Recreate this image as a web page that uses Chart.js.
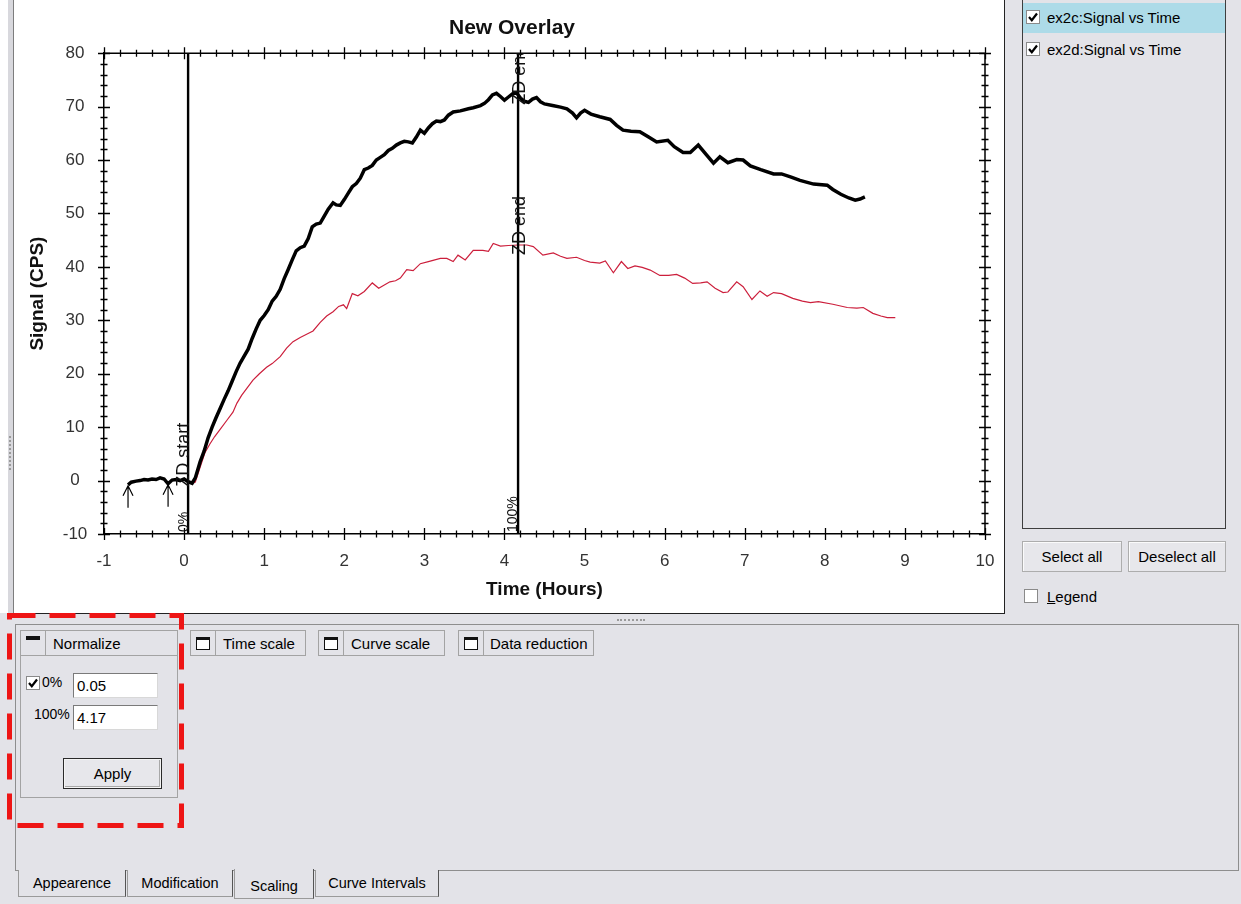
<!DOCTYPE html>
<html>
<head>
<meta charset="utf-8">
<title>New Overlay</title>
<script src="https://cdn.jsdelivr.net/npm/chart.js@4.4.1/dist/chart.umd.min.js"></script>
<style>
* { box-sizing: border-box; }
body {
  margin: 0;
  width: 1241px;
  height: 904px;
  position: relative;
  overflow: hidden;
  background: #e3e3e8;
  font: 15px "Liberation Sans", Arial, sans-serif;
  color: #000;
}
.abs { position: absolute; }
.lbl { position: absolute; white-space: nowrap; line-height: 16px; }
#leftWhite { left: 0; top: 0; width: 8px; height: 613px; background: #fff; }
#splitBar { left: 8px; top: 0; width: 6px; height: 613px; background: #d8d8dd; border-right: 1px solid #7d7d7d; }
#splitDots { left: 9px; top: 436px; width: 3px; height: 34px; border-left: 2px dotted #9a9a9a; }
#plotPanel { left: 14px; top: 0; width: 991px; height: 614px; background: #fff; border-right: 1px solid #222; border-bottom: 1px solid #222; }
#chartBox { left: 15px; top: 0; width: 990px; height: 613px; }
#hSplit { left: 617px; top: 619px; width: 28px; height: 3px; border-top: 2px dotted #9a9a9a; }

#curveList { left: 1022px; top: -2px; width: 204px; height: 531px; border: 1px solid #3e3e3e; background: #e3e3e8; }
#selRow { left: 1023px; top: 3px; width: 202px; height: 30px; background: #addbe8; }

.chk { position: absolute; width: 14px; height: 14px; background: #fff; border: 1px solid #8a8a8a; }
.chk svg { position: absolute; left: 0; top: 0; width: 12px; height: 12px; }
.chk polyline { fill: none; stroke: #000; stroke-width: 2.2; }

.btn {
  position: absolute;
  background: #e7e7eb;
  border: 1px solid #adadad;
  box-shadow: inset 1px 1px 0 #fbfbfb;
  text-align: center;
  font-size: 15px;
}
.btn.def { border: 1px solid #2a2a2a; box-shadow: inset 0 0 0 1px #f4f4f4, inset -2px -2px 0 #a8a8a8; }

#tabPage { left: 15px; top: 624px; width: 1224px; height: 247px; border: 1px solid #8e8e8e; }

.ghead { position: absolute; height: 26px; border: 1px solid #a3a3a3; background: #e3e3e8; }
.ghead .ico { position: absolute; left: 0; top: 0; width: 25px; height: 24px; border-right: 1px solid #a3a3a3; }
.ghead .txt { position: absolute; top: 4px; white-space: nowrap; }
.winIco { position: absolute; left: 5px; top: 6px; width: 14px; height: 13px; border: 1px solid #111; border-top-width: 3px; background: #fff; }
.barIco { position: absolute; left: 5px; top: 5px; width: 14px; height: 4px; background: #111; }
.gbody { position: absolute; border: 1px solid #a3a3a3; }
.field { position: absolute; height: 25px; background: #fff; border: 1px solid #d8d8d8; border-top-color: #7a7a7a; border-left-color: #7a7a7a; padding: 3px 0 0 3px; font-size: 15px; }

.tab {
  position: absolute;
  top: 870px;
  height: 27px;
  background: #e3e3e8;
  border: 1px solid #9a9a9a;
  border-top: none;
  border-right-color: #555;
  text-align: center;
  line-height: 26px;
  font-size: 14.5px;
}
.tab.sel { top: 869px; height: 30px; line-height: 34px; z-index: 2; }
#redBox { left: 0; top: 0; width: 1241px; height: 904px; pointer-events: none; z-index: 5; }
</style>
</head>
<body>

<div id="leftWhite" class="abs"></div>
<div id="splitBar" class="abs"></div>
<div id="splitDots" class="abs"></div>
<div id="plotPanel" class="abs"></div>
<div id="chartBox" class="abs"><canvas id="overlayChart"></canvas></div>
<div id="hSplit" class="abs"></div>

<!-- curve list on the right -->
<div id="curveList" class="abs"></div>
<div id="selRow" class="abs"></div>
<div class="chk" style="left:1026px;top:10px"><svg viewBox="0 0 12 12"><polyline points="2,6 4.8,9.2 10,2.5"/></svg></div>
<div class="lbl" style="left:1047px;top:10px">ex2c:Signal vs Time</div>
<div class="chk" style="left:1026px;top:42px"><svg viewBox="0 0 12 12"><polyline points="2,6 4.8,9.2 10,2.5"/></svg></div>
<div class="lbl" style="left:1047px;top:42px">ex2d:Signal vs Time</div>

<div class="btn" style="left:1022px;top:541px;width:100px;height:31px;line-height:29px">Select all</div>
<div class="btn" style="left:1128px;top:541px;width:98px;height:31px;line-height:29px">Deselect all</div>
<div class="chk" style="left:1024px;top:589px;width:14px;height:14px"></div>
<div class="lbl" style="left:1047px;top:589px"><u>L</u>egend</div>

<!-- scaling tab page -->
<div id="tabPage" class="abs"></div>

<div class="ghead" style="left:20px;top:630px;width:158px">
  <div class="ico"><div class="barIco"></div></div>
  <div class="txt" style="left:32px">Normalize</div>
</div>
<div class="gbody" style="left:20px;top:655px;width:158px;height:143px"></div>
<div class="chk" style="left:26px;top:676px"><svg viewBox="0 0 12 12"><polyline points="2,6 4.8,9.2 10,2.5"/></svg></div>
<div class="lbl" style="left:42px;top:674px;font-size:14px">0%</div>
<div class="field" style="left:73px;top:673px;width:85px">0.05</div>
<div class="lbl" style="left:34px;top:706px;font-size:14px">100%</div>
<div class="field" style="left:73px;top:705px;width:85px">4.17</div>
<div class="btn def" style="left:63px;top:758px;width:99px;height:31px;line-height:29px">Apply</div>

<div class="ghead" style="left:190px;top:630px;width:116px">
  <div class="ico"><div class="winIco"></div></div>
  <div class="txt" style="left:32px">Time scale</div>
</div>
<div class="ghead" style="left:318px;top:630px;width:127px">
  <div class="ico"><div class="winIco"></div></div>
  <div class="txt" style="left:32px">Curve scale</div>
</div>
<div class="ghead" style="left:458px;top:630px;width:136px">
  <div class="ico"><div class="winIco"></div></div>
  <div class="txt" style="left:31px">Data reduction</div>
</div>

<div class="tab" style="left:18px;width:108px">Appearence</div>
<div class="tab" style="left:127px;width:106px">Modification</div>
<div class="tab sel" style="left:234px;width:80px">Scaling</div>
<div class="tab" style="left:315px;width:124px">Curve Intervals</div>

<svg id="redBox" class="abs">
  <rect x="9.5" y="615.5" width="172" height="210" fill="none" stroke="#ee1515" stroke-width="5" stroke-dasharray="26 14"/>
</svg>

<script>
// ex2c (thick black) and ex2d (thin red), signal in CPS against time in hours
const timeC = [-0.70, -0.66, -0.60, -0.55, -0.50, -0.45, -0.40, -0.35, -0.30, -0.25, -0.20, -0.15, -0.10, -0.05, 0.00, 0.05, 0.10, 0.14,
  0.20, 0.25, 0.30, 0.35, 0.40, 0.45, 0.50, 0.55, 0.60, 0.65, 0.70, 0.75, 0.80, 0.85, 0.90, 0.95, 1.00, 1.05, 1.10, 1.15,
  1.20, 1.25, 1.30, 1.35, 1.40, 1.45, 1.50, 1.55, 1.60, 1.65, 1.70, 1.75, 1.80, 1.86, 1.90, 1.95, 2.00, 2.05, 2.10, 2.15,
  2.20, 2.25, 2.30, 2.35, 2.40, 2.45, 2.50, 2.55, 2.60, 2.65, 2.70, 2.75, 2.80, 2.85, 2.90, 2.95, 3.00, 3.05, 3.10, 3.15,
  3.20, 3.25, 3.30, 3.36, 3.45, 3.55, 3.61, 3.70, 3.75, 3.80, 3.85, 3.90, 3.95, 4.00, 4.05, 4.10, 4.15, 4.20, 4.25, 4.30,
  4.35, 4.40, 4.45, 4.50, 4.60, 4.70, 4.78, 4.85, 4.90, 4.95, 5.00, 5.08, 5.19, 5.32, 5.40, 5.48, 5.58, 5.69, 5.80, 5.90,
  6.04, 6.12, 6.23, 6.32, 6.42, 6.52, 6.61, 6.69, 6.79, 6.90, 6.98, 7.07, 7.20, 7.36, 7.46, 7.58, 7.69, 7.86, 8.03, 8.10,
  8.20, 8.30, 8.38, 8.44, 8.50];
const signalC = [-0.8, -0.3, -0.1, 0.0, 0.2, 0.1, 0.3, 0.2, 0.5, 0.3, -0.6, 0.1, 0.2, 0.0, 0.3, -0.2, -0.5, 0.5,
  3.5, 5.5, 8.0, 10.0, 11.8, 13.5, 15.2, 16.8, 18.6, 20.4, 22.0, 23.3, 24.6, 26.6, 28.4, 30.0, 30.9, 32.0, 33.6, 34.5,
  35.8, 37.8, 39.5, 41.3, 43.0, 43.6, 43.9, 45.3, 47.5, 48.0, 48.2, 49.5, 50.8, 52.0, 51.6, 51.5, 52.6, 53.8, 55.0, 55.6,
  56.6, 58.2, 58.5, 59.0, 60.0, 60.5, 61.0, 61.8, 62.2, 62.8, 63.2, 63.5, 63.4, 63.2, 64.3, 65.6, 65.0, 66.0, 66.8, 67.3,
  67.2, 67.5, 68.4, 69.0, 69.2, 69.6, 69.8, 70.2, 70.6, 71.3, 72.2, 72.5, 71.9, 71.2, 71.8, 72.4, 72.6, 71.6, 71.0, 70.8,
  71.4, 71.7, 70.9, 70.5, 70.2, 69.9, 69.6, 68.8, 67.9, 68.8, 69.3, 68.6, 68.1, 67.6, 66.5, 65.6, 65.4, 65.3, 64.3, 63.4,
  63.7, 62.5, 61.4, 61.4, 62.8, 61.0, 59.4, 60.6, 59.5, 60.1, 60.0, 58.9, 58.2, 57.4, 57.4, 56.8, 56.2, 55.5, 55.3, 54.5,
  53.6, 52.9, 52.5, 52.7, 53.1];

const timeD = [0.10, 0.14, 0.20, 0.26, 0.32, 0.38, 0.45, 0.53, 0.61, 0.66, 0.72, 0.79, 0.86, 0.94, 1.03, 1.10, 1.20, 1.28,
  1.36, 1.45, 1.53, 1.61, 1.70, 1.78, 1.86, 1.93, 1.99, 2.03, 2.10, 2.17, 2.25, 2.35, 2.43, 2.50, 2.57, 2.64, 2.70, 2.78,
  2.86, 2.95, 3.05, 3.20, 3.28, 3.36, 3.42, 3.51, 3.61, 3.73, 3.80, 3.86, 3.95, 4.05, 4.17, 4.28, 4.36, 4.48, 4.61, 4.70,
  4.78, 4.90, 5.00, 5.07, 5.19, 5.26, 5.36, 5.46, 5.54, 5.63, 5.72, 5.82, 5.94, 6.05, 6.15, 6.25, 6.35, 6.45, 6.53, 6.63,
  6.73, 6.79, 6.90, 6.98, 7.09, 7.19, 7.28, 7.36, 7.46, 7.60, 7.72, 7.82, 7.92, 8.10, 8.28, 8.40, 8.48, 8.60, 8.70, 8.78,
  8.88];
const signalD = [-0.6, -0.3, 2.5, 5.2, 6.8, 8.2, 9.6, 11.2, 12.8, 14.5, 16.0, 17.4, 18.8, 20.0, 21.2, 21.9, 23.2, 24.8,
  26.0, 26.8, 27.4, 28.0, 29.6, 30.8, 31.6, 32.6, 32.9, 32.2, 35.0, 34.6, 35.4, 37.0, 36.0, 36.6, 37.2, 37.4, 37.9, 39.5,
  39.3, 40.6, 41.0, 41.6, 41.6, 41.0, 42.2, 41.3, 43.1, 43.1, 42.9, 44.4, 43.9, 44.0, 44.1, 44.1, 43.8, 42.2, 42.6, 42.0,
  41.6, 41.8, 41.2, 40.9, 40.7, 41.1, 38.9, 41.0, 39.7, 40.2, 39.9, 39.4, 38.4, 38.4, 38.6, 37.9, 36.9, 37.0, 37.2, 36.0,
  35.2, 35.3, 37.2, 36.3, 33.9, 35.5, 34.5, 35.2, 35.0, 34.1, 33.6, 33.3, 33.5, 33.0, 32.4, 32.3, 32.4, 31.3, 30.8, 30.5,
  30.5];

// normalize points (0% / 100%) and interval arrows
const normStart = 0.05;
const normEnd = 4.17;
const arrowTimes = [-0.70, -0.20];

const xTickValues = [-1, 0, 1, 2, 3, 4, 5, 6, 7, 8, 9, 10];
const yTickValues = [-10, 0, 10, 20, 30, 40, 50, 60, 70, 80];
const xMinorStep = 0.2;
const yMinorStep = 2;

const FONT = '"Liberation Sans", Arial, sans-serif';
Chart.defaults.font.family = FONT;

function pairs(xs, ys) {
  return xs.map((x, i) => ({ x: x, y: ys[i] }));
}

// linear interpolation on a curve, used to anchor the ZD labels
function valueAt(xs, ys, t) {
  if (t <= xs[0]) return ys[0];
  for (let i = 1; i < xs.length; i++) {
    if (xs[i] >= t) {
      const f = (t - xs[i - 1]) / (xs[i] - xs[i - 1]);
      return ys[i - 1] + f * (ys[i] - ys[i - 1]);
    }
  }
  return ys[ys.length - 1];
}

// closed frame with ticks crossing on all four sides
const frameTicks = {
  id: 'frameTicks',
  afterDatasetsDraw(chart) {
    const { ctx, chartArea: a, scales: { x, y } } = chart;
    ctx.save();
    ctx.strokeStyle = '#000';
    ctx.lineWidth = 1.5;
    ctx.beginPath();
    ctx.moveTo(a.left, a.top); ctx.lineTo(a.right, a.top);
    ctx.moveTo(a.right, a.top); ctx.lineTo(a.right, a.bottom);
    ctx.stroke();

    ctx.lineWidth = 1.3;
    ctx.beginPath();
    const nx = Math.round((x.max - x.min) / xMinorStep);
    for (let i = 0; i <= nx; i++) {
      const v = x.min + i * xMinorStep;
      const major = xTickValues.some(t => Math.abs(t - v) < 1e-6);
      const len = major ? 6 : 3.5;
      const px = Math.round(x.getPixelForValue(v)) + 0.5;
      ctx.moveTo(px, a.bottom - len); ctx.lineTo(px, a.bottom + len);
      ctx.moveTo(px, a.top - len); ctx.lineTo(px, a.top + len);
    }
    const ny = Math.round((y.max - y.min) / yMinorStep);
    for (let i = 0; i <= ny; i++) {
      const v = y.min + i * yMinorStep;
      const major = yTickValues.some(t => Math.abs(t - v) < 1e-6);
      const len = major ? 6 : 3.5;
      const py = Math.round(y.getPixelForValue(v)) + 0.5;
      ctx.moveTo(a.left - len, py); ctx.lineTo(a.left + len, py);
      ctx.moveTo(a.right - len, py); ctx.lineTo(a.right + len, py);
    }
    ctx.stroke();
    ctx.restore();
  }
};

function rotatedText(ctx, text, px, py, size) {
  ctx.save();
  ctx.translate(px, py);
  ctx.rotate(-Math.PI / 2);
  ctx.font = size + 'px ' + FONT;
  ctx.textAlign = 'left';
  ctx.textBaseline = 'alphabetic';
  ctx.fillText(text, 0, 0);
  ctx.restore();
}

// 0% / 100% lines, ZD labels and interval arrows
const normMarkers = {
  id: 'normMarkers',
  afterDatasetsDraw(chart) {
    const { ctx, chartArea: a, scales: { x, y } } = chart;
    const xs = x.getPixelForValue(normStart);
    const xe = x.getPixelForValue(normEnd);

    ctx.save();
    ctx.strokeStyle = '#000';
    ctx.fillStyle = '#111';
    ctx.lineWidth = 2.4;
    ctx.beginPath();
    ctx.moveTo(xs, a.top); ctx.lineTo(xs, a.bottom);
    ctx.moveTo(xe, a.top); ctx.lineTo(xe, a.bottom);
    ctx.stroke();

    rotatedText(ctx, '0%', xs, a.bottom - 2, 14);
    rotatedText(ctx, '100%', xe - 1, a.bottom - 2, 14);

    ctx.beginPath();
    ctx.rect(a.left, a.top, a.right - a.left, a.bottom - a.top);
    ctx.clip();
    rotatedText(ctx, 'ZD start', xs + 1, y.getPixelForValue(valueAt(timeC, signalC, normStart)) + 5, 18);
    rotatedText(ctx, 'ZD end', xe + 7, y.getPixelForValue(valueAt(timeC, signalC, normEnd)) + 10, 18);
    rotatedText(ctx, 'ZD end', xe + 7, y.getPixelForValue(valueAt(timeD, signalD, normEnd)) + 10, 18);

    ctx.lineWidth = 1.2;
    arrowTimes.forEach(t => {
      const px = x.getPixelForValue(t);
      const top = y.getPixelForValue(valueAt(timeC, signalC, t)) + 1;
      ctx.beginPath();
      ctx.moveTo(px, top); ctx.lineTo(px, top + 22);
      ctx.moveTo(px - 5, top + 10); ctx.lineTo(px, top); ctx.lineTo(px + 5, top + 10);
      ctx.stroke();
    });
    ctx.restore();
  }
};

const ctx = document.getElementById('overlayChart').getContext('2d');

new Chart(ctx, {
  type: 'line',
  data: {
    datasets: [{
      label: 'ex2c:Signal vs Time',
      data: pairs(timeC, signalC),
      borderColor: '#000',
      borderWidth: 3.5,
      pointRadius: 0,
      tension: 0
    }, {
      label: 'ex2d:Signal vs Time',
      data: pairs(timeD, signalD),
      borderColor: '#cc1f3c',
      borderWidth: 1.2,
      pointRadius: 0,
      tension: 0
    }]
  },
  options: {
    responsive: true,
    maintainAspectRatio: false,
    animation: false,
    layout: { padding: { left: 24, right: 20, top: 0, bottom: 0 } },
    plugins: {
      legend: { display: false },
      tooltip: { enabled: false },
      title: {
        display: true,
        text: 'New Overlay',
        color: '#111',
        font: { size: 21, weight: 'bold' },
        padding: { top: 16, bottom: 12 }
      }
    },
    scales: {
      x: {
        type: 'linear',
        min: -1,
        max: 10,
        afterBuildTicks: s => { s.ticks = xTickValues.map(v => ({ value: v })); },
        afterFit: s => { s.height = 79; s.paddingLeft = 0; s.paddingRight = 0; },
        grid: { display: false, drawTicks: false },
        border: { display: true, color: '#000', width: 1.5 },
        ticks: { color: '#333', font: { size: 17 }, padding: 17, maxRotation: 0, autoSkip: false },
        title: {
          display: true,
          text: 'Time (Hours)',
          color: '#111',
          font: { size: 19, weight: 'bold' },
          padding: { top: 0, bottom: 11.6 }
        }
      },
      y: {
        min: -10,
        max: 80,
        afterBuildTicks: s => { s.ticks = yTickValues.map(v => ({ value: v })); },
        afterFit: s => { s.width = 65; },
        grid: { display: false, drawTicks: false },
        border: { display: true, color: '#000', width: 1.5 },
        ticks: { color: '#333', font: { size: 17 }, padding: 16.7, crossAlign: 'center' },
        title: {
          display: true,
          text: 'Signal (CPS)',
          color: '#111',
          font: { size: 19, weight: 'bold' },
          padding: { top: -12.4, bottom: 0 }
        }
      }
    }
  },
  plugins: [frameTicks, normMarkers]
});
</script>
</body>
</html>
